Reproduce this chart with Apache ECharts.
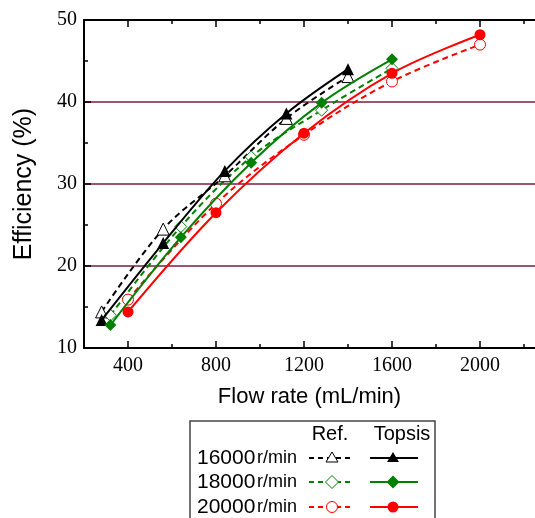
<!DOCTYPE html>
<html>
<head>
<meta charset="utf-8">
<script src="https://cdn.jsdelivr.net/npm/echarts@6/dist/echarts.min.js"></script>
<style>
  html, body { margin: 0; padding: 0; background: #fff; }
  #chart { width: 535px; height: 518px; }
</style>
</head>
<body>
<div id="chart"></div>
<script>
// flow rate (mL/min) per speed
var flow16000 = [280, 560, 840, 1120, 1400]
var flow18000 = [320, 640, 960, 1280, 1600]
var flow20000 = [400, 800, 1200, 1600, 2000]
// efficiency (%)
var ref16000 = [14.4, 24.5, 31.0, 38.0, 43.1]
var topsis16000 = [13.4, 22.8, 31.6, 38.6, 44.0]
var ref18000 = [14.0, 24.8, 33.3, 39.0, 44.1]
var topsis18000 = [12.8, 23.5, 32.6, 39.9, 45.2]
var ref20000 = [15.9, 27.6, 36.0, 42.5, 47.0]
var topsis20000 = [14.4, 26.5, 36.2, 43.5, 48.2]
// axis ticks
var xMajor = [400, 800, 1200, 1600, 2000]
var xMinor = [600, 1000, 1400, 1800, 2200]

var GREEN = '#008000'
var RED = '#ff0000'
var BLACK = '#000000'

function pairs(xs, ys) {
  return xs.map(function (x, i) { return [x, ys[i]] })
}

var triPath = 'path://M0,-10L8.66,5L-8.66,5Z'
var diaPath = 'path://M0,-10L10,0L0,10L-10,0Z'

function refSeries(xs, ys, color, symbol, size) {
  return {
    type: 'line',
    data: pairs(xs, ys),
    smooth: 0.35,
    symbol: symbol,
    symbolSize: size,
    lineStyle: { color: color, width: 2, type: [6, 4] },
    itemStyle: { color: '#fff', borderColor: color, borderWidth: 1 },
    z: 2
  }
}
function topsisSeries(xs, ys, color, symbol, size) {
  return {
    type: 'line',
    data: pairs(xs, ys),
    smooth: 0.35,
    symbol: symbol,
    symbolSize: size,
    lineStyle: { color: color, width: 2 },
    itemStyle: { color: color, borderColor: color, borderWidth: 0 },
    z: 3
  }
}

var chart = echarts.init(document.getElementById('chart'))

function xAxisDef(pos, ticks, len, showLine, showLabel) {
  return {
    type: 'value',
    position: pos,
    min: 200,
    max: 2250,
    axisLine: { show: showLine, lineStyle: { color: BLACK, width: 2 } },
    axisTick: { show: true, inside: true, length: len, customValues: ticks, lineStyle: { color: BLACK, width: 1.5 } },
    axisLabel: showLabel ? {
      show: true, customValues: xMajor, margin: 8,
      formatter: function (v) { return String(v) },
      color: BLACK, fontFamily: 'Liberation Serif', fontSize: 20
    } : { show: false },
    splitLine: { show: false },
    name: showLabel ? 'Flow rate (mL/min)' : '',
    nameLocation: 'middle',
    nameGap: 38,
    nameTextStyle: { color: BLACK, fontFamily: 'Liberation Sans', fontSize: 22 }
  }
}

// legend drawn by hand (two columns: Ref. / Topsis)
var legendRows = [
  { speed: '16000', color: BLACK, kind: 'tri' },
  { speed: '18000', color: GREEN, kind: 'dia' },
  { speed: '20000', color: RED, kind: 'cir' }
]
var rowY = [458, 482, 507]

function legendMarker(kind, cx, cy, color, filled) {
  var style = filled ? { fill: color, stroke: color, lineWidth: 0 } : { fill: '#fff', stroke: color, lineWidth: 1 }
  if (kind === 'tri') {
    return { type: 'polygon', shape: { points: [[cx, cy - 6], [cx + 6, cy + 4], [cx - 6, cy + 4]] }, style: style, z: 101 }
  }
  if (kind === 'dia') {
    return { type: 'polygon', shape: { points: [[cx, cy - 6.5], [cx + 6.5, cy], [cx, cy + 6.5], [cx - 6.5, cy]] }, style: style, z: 101 }
  }
  return { type: 'circle', shape: { cx: cx, cy: cy, r: 5.5 }, style: style, z: 101 }
}

var graphics = [
  { type: 'rect', shape: { x: 190, y: 421, width: 245, height: 110 }, style: { fill: '#fff', stroke: '#444', lineWidth: 1.5 }, z: 100 },
  { type: 'text', x: 330, y: 434, style: { text: 'Ref.', fill: BLACK, font: '20px "Liberation Sans"', align: 'center', verticalAlign: 'middle' }, z: 101 },
  { type: 'text', x: 402, y: 434, style: { text: 'Topsis', fill: BLACK, font: '20px "Liberation Sans"', align: 'center', verticalAlign: 'middle' }, z: 101 }
]
legendRows.forEach(function (r, i) {
  var y = rowY[i]
  graphics.push({ type: 'text', x: 197, y: y, style: { text: r.speed, fill: BLACK, font: '21px "Liberation Sans"', verticalAlign: 'middle' }, z: 101 })
  graphics.push({ type: 'text', x: 257, y: y, style: { text: 'r/min', fill: BLACK, font: '18px "Liberation Sans"', verticalAlign: 'middle' }, z: 101 })
  graphics.push({ type: 'line', shape: { x1: 309, y1: y, x2: 354, y2: y }, style: { stroke: r.color, lineWidth: 2, lineDash: [5, 4] }, z: 101 })
  graphics.push(legendMarker(r.kind, 332, y, r.color, false))
  graphics.push({ type: 'line', shape: { x1: 370, y1: y, x2: 418, y2: y }, style: { stroke: r.color, lineWidth: 2 }, z: 101 })
  graphics.push(legendMarker(r.kind, 393, y, r.color, true))
})

var option = {
  backgroundColor: '#fff',
  animation: false,
  grid: { left: 84, top: 20, right: 0, bottom: 170, containLabel: false },
  xAxis: [
    xAxisDef('bottom', xMajor, 7, true, true),
    xAxisDef('bottom', xMinor, 4, false, false),
    xAxisDef('top', xMajor, 7, true, false),
    xAxisDef('top', xMinor, 4, false, false)
  ],
  yAxis: {
    type: 'value',
    min: 10,
    max: 50,
    interval: 10,
    axisLine: { show: true, lineStyle: { color: BLACK, width: 2 } },
    axisTick: { show: true, inside: true, length: 7, lineStyle: { color: BLACK, width: 1.5 } },
    minorTick: { show: true, splitNumber: 2, length: 4, lineStyle: { color: BLACK, width: 1.5 } },
    axisLabel: { color: BLACK, fontFamily: 'Liberation Serif', fontSize: 20, margin: 7 },
    splitLine: { show: true, lineStyle: { color: '#7b1c3a', width: 1.5 } },
    name: 'Efficiency (%)',
    nameLocation: 'middle',
    nameGap: 47,
    nameTextStyle: { color: BLACK, fontFamily: 'Liberation Sans', fontSize: 25 }
  },
  series: [
    refSeries(flow16000, ref16000, BLACK, triPath, 12),
    refSeries(flow18000, ref18000, GREEN, diaPath, 12),
    refSeries(flow20000, ref20000, RED, 'circle', 11),
    topsisSeries(flow16000, topsis16000, BLACK, triPath, 12),
    topsisSeries(flow18000, topsis18000, GREEN, diaPath, 12),
    topsisSeries(flow20000, topsis20000, RED, 'circle', 11)
  ],
  graphic: graphics
}

chart.setOption(option)
</script>
</body>
</html>
